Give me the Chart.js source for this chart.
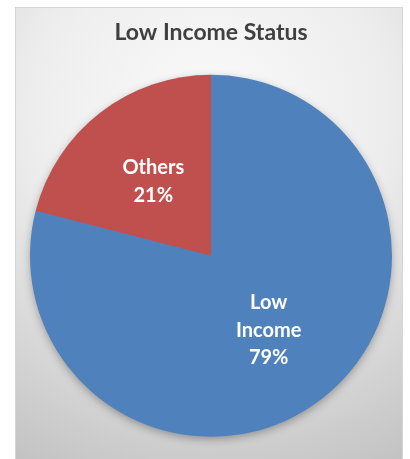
<!DOCTYPE html>
<html lang="en">

<head>
    <meta charset="UTF-8">
    <title>Low Income Status</title>
    <script src="https://cdn.jsdelivr.net/npm/chart.js"></script>
    <style>
        html, body { margin: 0; padding: 0; background: #ffffff; }
        .chart-box { width: 410px; height: 459px; }
    </style>
</head>

<body>
    <div class="chart-box">
        <canvas id="incomeChart" width="410" height="459"></canvas>
    </div>
    <script>
        const categories = ['Low Income', 'Others'];
        const shares = [79, 21];
        const sliceColors = ['#4f81bd', '#c0504d'];

        // grey frame with the soft radial shading behind the pie
        const frameBg = {
            id: 'frameBg',
            beforeDraw(chart) {
                const ctx = chart.ctx;
                ctx.save();
                const g = ctx.createRadialGradient(209, 110, 0, 209, 110, 400);
                g.addColorStop(0, '#fafafa');
                g.addColorStop(0.45, '#ededed');
                g.addColorStop(1, '#c2c2c2');
                ctx.fillStyle = g;
                ctx.fillRect(15, 7, 388, 452);
                ctx.strokeStyle = '#d6d6d6';
                ctx.lineWidth = 1;
                ctx.strokeRect(15.5, 7.5, 387, 452);
                ctx.restore();
            },
            beforeDatasetsDraw(chart) {
                // faint shadow under the pie
                const arc = chart.getDatasetMeta(0).data[0];
                if (!arc) return;
                const ctx = chart.ctx;
                ctx.save();
                ctx.shadowColor = 'rgba(0,0,0,0.35)';
                ctx.shadowBlur = 10;
                ctx.shadowOffsetY = 3;
                ctx.fillStyle = '#4f81bd';
                ctx.beginPath();
                ctx.arc(arc.x, arc.y, arc.outerRadius - 1, 0, Math.PI * 2);
                ctx.fill();
                ctx.restore();
            }
        };

        // white labels inside each slice
        const sliceLabels = {
            id: 'sliceLabels',
            afterDatasetsDraw(chart) {
                const ctx = chart.ctx;
                const meta = chart.getDatasetMeta(0);
                ctx.save();
                ctx.fillStyle = '#ffffff';
                ctx.font = 'bold 20px Lato, "Open Sans", sans-serif';
                ctx.textAlign = 'center';
                ctx.textBaseline = 'middle';
                meta.data.forEach((arc, i) => {
                    const mid = (arc.startAngle + arc.endAngle) / 2;
                    const r = arc.outerRadius * 0.52;
                    const x = arc.x + Math.cos(mid) * r;
                    const y = arc.y + Math.sin(mid) * r;
                    const lines = categories[i].split(' ');
                    lines.push(shares[i] + '%');
                    const lh = 27.5;
                    lines.forEach((t, j) => {
                        ctx.fillText(t, x, y + (j - (lines.length - 1) / 2) * lh);
                    });
                });
                ctx.restore();
            }
        };

        new Chart(document.getElementById('incomeChart'), {
            type: 'pie',
            data: {
                labels: categories,
                datasets: [{
                    data: shares,
                    backgroundColor: sliceColors,
                    borderWidth: 0
                }]
            },
            options: {
                responsive: false,
                animation: false,
                layout: {
                    padding: { top: 19, bottom: 22, left: 30, right: 18 }
                },
                plugins: {
                    legend: { display: false },
                    tooltip: { enabled: false },
                    title: {
                        display: true,
                        text: 'Low Income Status',
                        color: '#404040',
                        font: { family: 'Lato, "Open Sans", sans-serif', size: 23, weight: 'bold', lineHeight: 1.2 },
                        padding: { top: 0, bottom: 28 }
                    }
                }
            },
            plugins: [frameBg, sliceLabels]
        });
    </script>
</body>

</html>
